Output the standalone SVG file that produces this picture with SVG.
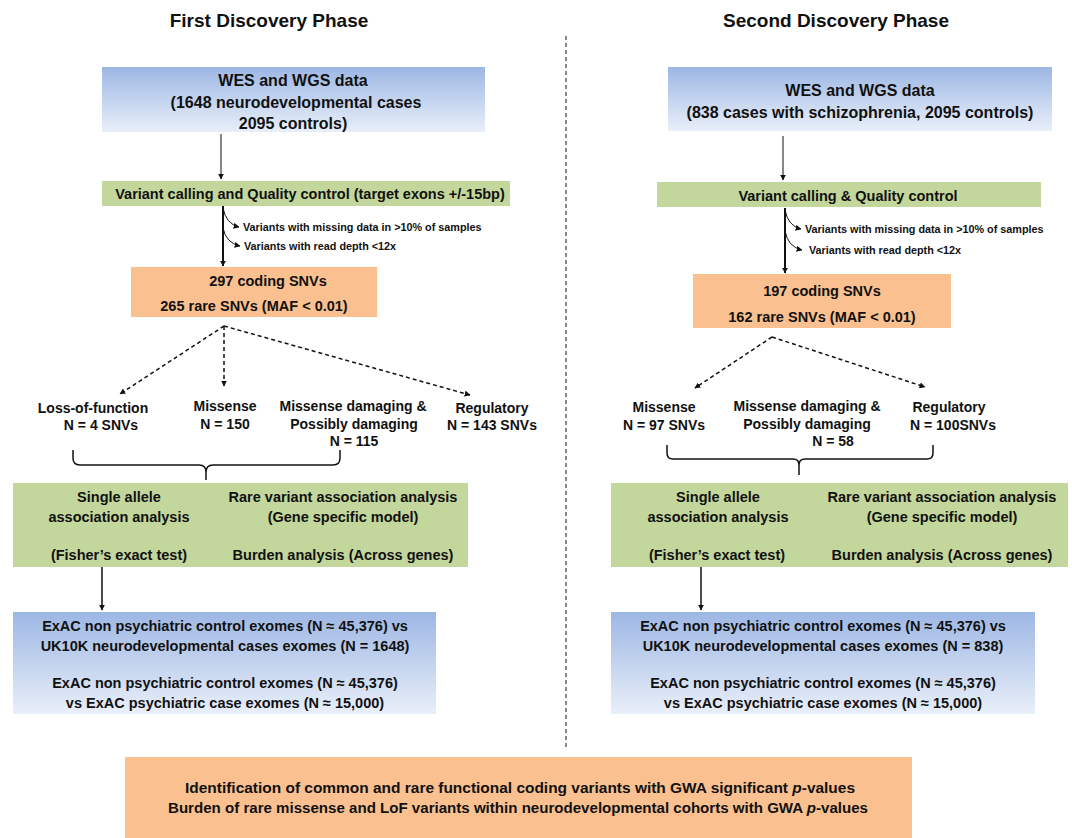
<svg xmlns="http://www.w3.org/2000/svg" width="1072" height="838" viewBox="0 0 1072 838">
<defs>
<linearGradient id="blueGrad" x1="0" y1="0" x2="0" y2="1">
<stop offset="0" stop-color="#9db7e4"/>
<stop offset="1" stop-color="#e9eff9"/>
</linearGradient>
<marker id="ah" viewBox="0 0 10 10" refX="9" refY="5" markerWidth="6" markerHeight="6" markerUnits="userSpaceOnUse" orient="auto">
<path d="M0,0 L10,5 L0,10 z" fill="#111"/>
</marker>
<style>
text{font-family:"Liberation Sans",Arial,sans-serif;font-weight:bold;fill:#111;text-anchor:middle;}
.t16{font-size:16px;}
.t145{font-size:14.5px;}
.t14{font-size:14px;}
.small{font-size:10.8px;text-anchor:start;}
.title{font-size:19px;}
.blue{fill:url(#blueGrad);}
.green{fill:#c3d69b;}
.orange{fill:#fac090;}
.line{stroke:#111;fill:none;}
.thin{stroke-width:1;}
.thick{stroke-width:2;}
.dash{stroke-width:1.5;stroke-dasharray:4,3;}
</style>
</defs>
<rect width="1072" height="838" fill="#ffffff"/>

<g id="titles">
<text class="title" x="269" y="27">First Discovery Phase</text>
<text class="title" x="836" y="27">Second Discovery Phase</text>
</g>
<line x1="566" y1="36" x2="566" y2="748" stroke="#111" stroke-width="1" stroke-dasharray="4,3"/>

<!-- Left column -->
<g id="L_wes">
<rect class="blue" x="102" y="67" width="383" height="65"/>
<text class="t16" x="293" y="86">WES and WGS data</text>
<text class="t16" x="296" y="108">(1648 neurodevelopmental cases</text>
<text class="t16" x="293" y="129">2095 controls)</text>
</g>
<g id="L_qc">
<rect class="green" x="102" y="181" width="408" height="25"/>
<text class="t145" x="310" y="199">Variant calling and Quality control (target exons +/-15bp)</text>
</g>
<g id="L_filter1"><text class="small" x="243" y="231">Variants with missing data in &gt;10% of samples</text></g>
<g id="L_filter2"><text class="small" x="244" y="250">Variants with read depth &lt;12x</text></g>
<g id="L_snv">
<rect class="orange" x="131" y="267" width="246" height="50"/>
<text class="t145" x="268" y="286">297 coding SNVs</text>
<text class="t145" x="254" y="311">265 rare SNVs (MAF &lt; 0.01)</text>
</g>
<g id="L_lof">
<text class="t14" x="93" y="413">Loss-of-function</text>
<text class="t14" x="101" y="430">N = 4 SNVs</text>
</g>
<g id="L_mis">
<text class="t14" x="225" y="411">Missense</text>
<text class="t14" x="225" y="429">N = 150</text>
</g>
<g id="L_misdam">
<text class="t14" x="353" y="411">Missense damaging &amp;</text>
<text class="t14" x="354" y="429">Possibly damaging</text>
<text class="t14" x="354" y="446">N = 115</text>
</g>
<g id="L_reg">
<text class="t14" x="492" y="413">Regulatory</text>
<text class="t14" x="492" y="430">N = 143 SNVs</text>
</g>
<g id="L_assoc">
<rect class="green" x="13" y="483" width="455" height="84"/>
<text class="t145" x="119" y="502">Single allele</text>
<text class="t145" x="119" y="522">association analysis</text>
<text class="t145" x="119" y="560">(Fisher’s exact test)</text>
<text class="t145" x="343" y="502">Rare variant association analysis</text>
<text class="t145" x="343" y="522">(Gene specific model)</text>
<text class="t145" x="343" y="560">Burden analysis (Across genes)</text>
</g>
<g id="L_exac">
<rect class="blue" x="13" y="612" width="423" height="102"/>
<text class="t145" x="225" y="631">ExAC non psychiatric control exomes (N ≈ 45,376) vs</text>
<text class="t145" x="225" y="651">UK10K neurodevelopmental cases exomes (N = 1648)</text>
<text class="t145" x="225" y="688">ExAC non psychiatric control exomes (N ≈ 45,376)</text>
<text class="t145" x="225" y="708">vs ExAC psychiatric case exomes (N ≈ 15,000)</text>
</g>

<!-- Right column -->
<g id="R_wes">
<rect class="blue" x="668" y="67" width="384" height="64"/>
<text class="t16" x="860" y="96">WES and WGS data</text>
<text class="t16" x="860" y="118">(838 cases with schizophrenia, 2095 controls)</text>
</g>
<g id="R_qc">
<rect class="green" x="657" y="182" width="384" height="25"/>
<text class="t145" x="848" y="201">Variant calling &amp; Quality control</text>
</g>
<g id="R_filter1"><text class="small" x="805" y="233">Variants with missing data in &gt;10% of samples</text></g>
<g id="R_filter2"><text class="small" x="809" y="254">Variants with read depth &lt;12x</text></g>
<g id="R_snv">
<rect class="orange" x="693" y="274" width="258" height="54"/>
<text class="t145" x="822" y="296">197 coding SNVs</text>
<text class="t145" x="822" y="322">162 rare SNVs (MAF &lt; 0.01)</text>
</g>
<g id="R_mis">
<text class="t14" x="664" y="412">Missense</text>
<text class="t14" x="664" y="430">N = 97 SNVs</text>
</g>
<g id="R_misdam">
<text class="t14" x="807" y="411">Missense damaging &amp;</text>
<text class="t14" x="807" y="429">Possibly damaging</text>
<text class="t14" x="833" y="446">N = 58</text>
</g>
<g id="R_reg">
<text class="t14" x="949" y="412">Regulatory</text>
<text class="t14" x="953" y="430">N = 100SNVs</text>
</g>
<g id="R_assoc">
<rect class="green" x="611" y="483" width="457" height="84"/>
<text class="t145" x="718" y="502">Single allele</text>
<text class="t145" x="718" y="522">association analysis</text>
<text class="t145" x="717" y="560">(Fisher’s exact test)</text>
<text class="t145" x="942" y="502">Rare variant association analysis</text>
<text class="t145" x="942" y="522">(Gene specific model)</text>
<text class="t145" x="942" y="560">Burden analysis (Across genes)</text>
</g>
<g id="R_exac">
<rect class="blue" x="611" y="612" width="424" height="102"/>
<text class="t145" x="823" y="631">ExAC non psychiatric control exomes (N ≈ 45,376) vs</text>
<text class="t145" x="823" y="651">UK10K neurodevelopmental cases exomes (N = 838)</text>
<text class="t145" x="823" y="688">ExAC non psychiatric control exomes (N ≈ 45,376)</text>
<text class="t145" x="823" y="708">vs ExAC psychiatric case exomes (N ≈ 15,000)</text>
</g>

<g id="bottom">
<rect class="orange" x="125" y="757" width="787" height="81"/>
<text class="t14" x="520" y="793" textLength="670" lengthAdjust="spacingAndGlyphs">Identification of common and rare functional coding variants with GWA significant <tspan font-style="italic">p</tspan>-values</text>
<text class="t14" x="518" y="813" textLength="700" lengthAdjust="spacingAndGlyphs">Burden of rare missense and LoF variants within neurodevelopmental cohorts with GWA <tspan font-style="italic">p</tspan>-values</text>
</g>

<g id="connectors">
<!-- left -->
<line class="line thin" x1="221" y1="134" x2="221" y2="179" marker-end="url(#ah)"/>
<line class="line thick" x1="223" y1="206" x2="223" y2="266" marker-end="url(#ah)"/>
<path class="line thin" d="M223,208 Q226,224 239,227" marker-end="url(#ah)"/>
<path class="line thin" d="M223,228 Q226,243 240,246" marker-end="url(#ah)"/>
<line class="line dash" x1="224" y1="326" x2="120" y2="394" marker-end="url(#ah)"/>
<line class="line dash" x1="224" y1="326" x2="224" y2="386" marker-end="url(#ah)"/>
<line class="line dash" x1="224" y1="326" x2="470" y2="395" marker-end="url(#ah)"/>
<path class="line" stroke-width="1.5" d="M73,450 V458 Q73,465 80,465 H199 Q206,465 206,472 V480 M206,472 Q206,465 213,465 H333 Q340,465 340,458 V450"/>
<line class="line" stroke-width="1.5" x1="102" y1="567" x2="102" y2="610" marker-end="url(#ah)"/>
<!-- right -->
<line class="line thin" x1="783" y1="136" x2="783" y2="180" marker-end="url(#ah)"/>
<line class="line thick" x1="785" y1="208" x2="785" y2="273" marker-end="url(#ah)"/>
<path class="line thin" d="M785,210 Q788,226 801,229" marker-end="url(#ah)"/>
<path class="line thin" d="M785,231 Q788,247 802,250" marker-end="url(#ah)"/>
<line class="line dash" x1="772" y1="337" x2="695" y2="388" marker-end="url(#ah)"/>
<line class="line dash" x1="772" y1="337" x2="925" y2="387" marker-end="url(#ah)"/>
<path class="line" stroke-width="1.5" d="M667,445 V453 Q667,459 673,459 H793 Q799,459 799,465 V475 M799,465 Q799,459 805,459 H927 Q933,459 933,453 V445"/>
<line class="line" stroke-width="1.5" x1="701" y1="567" x2="701" y2="610" marker-end="url(#ah)"/>
</g>
</svg>
